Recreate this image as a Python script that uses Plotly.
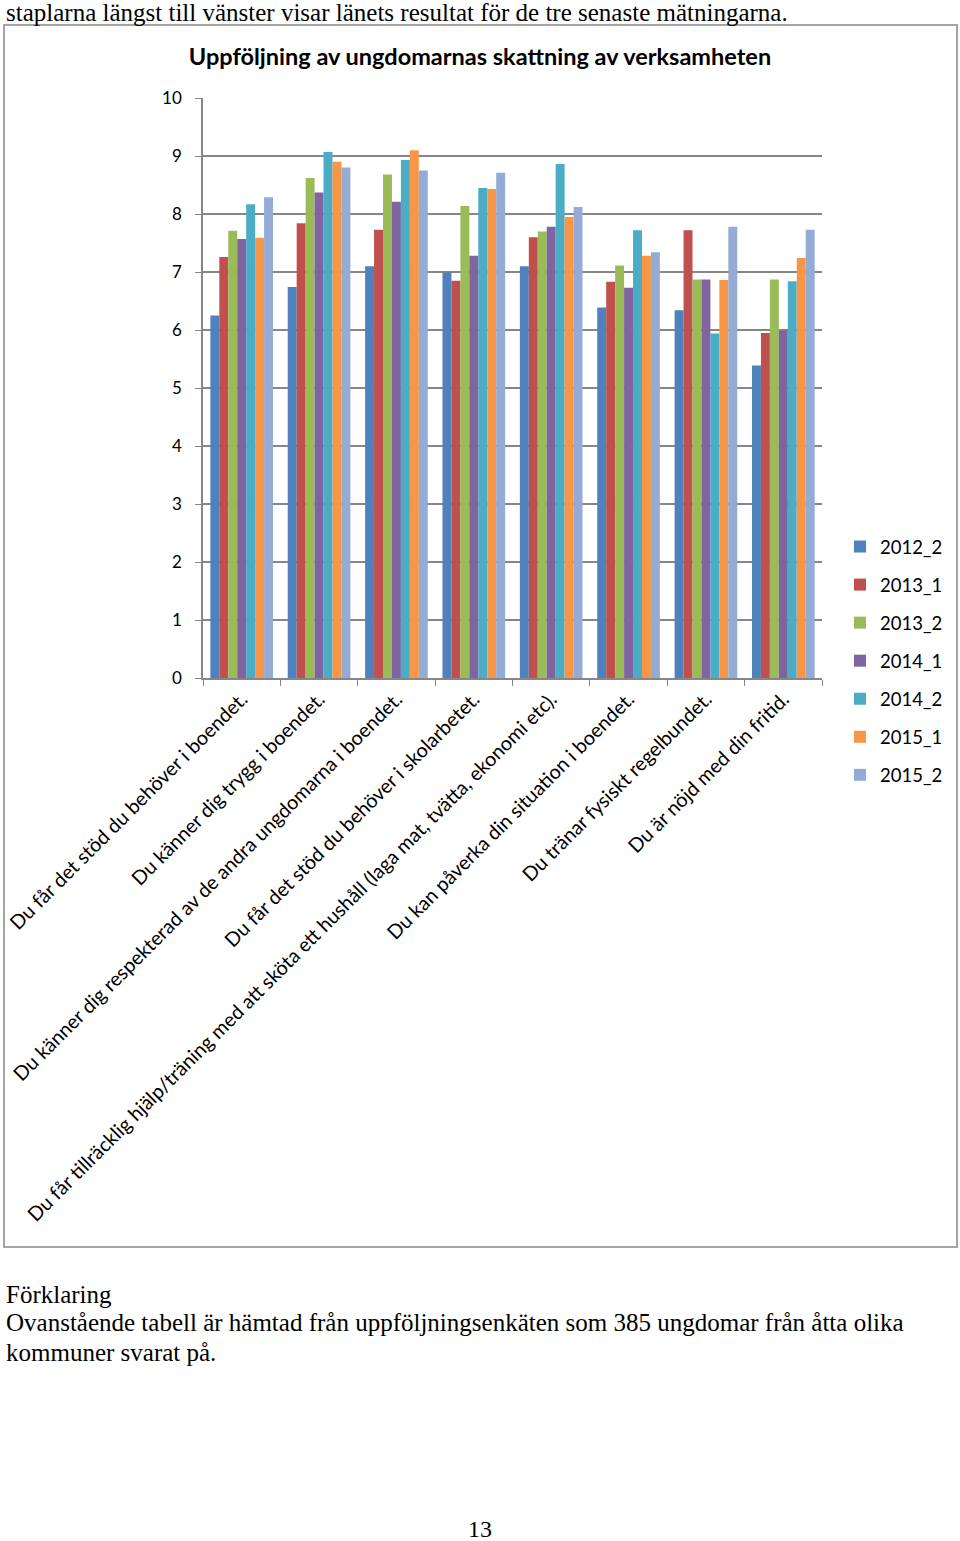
import plotly.graph_objects as go

categories = [
    "Du får det stöd du behöver i boendet.",
    "Du känner dig trygg i boendet.",
    "Du känner dig respekterad av de andra ungdomarna i boendet.",
    "Du får det stöd du behöver i skolarbetet.",
    "Du får tillräcklig hjälp/träning med att sköta ett hushåll (laga mat, tvätta, ekonomi etc).",
    "Du kan påverka din situation i boendet.",
    "Du tränar fysiskt regelbundet.",
    "Du är nöjd med din fritid.",
]

series_names = ["2012_2", "2013_1", "2013_2", "2014_1", "2014_2", "2015_1", "2015_2"]

v_2012_2 = [6.25, 6.74, 7.10, 6.99, 7.10, 6.39, 6.34, 5.39]
v_2013_1 = [7.26, 7.84, 7.73, 6.85, 7.60, 6.83, 7.72, 5.95]
v_2013_2 = [7.71, 8.62, 8.68, 8.14, 7.70, 7.11, 6.87, 6.87]
v_2014_1 = [7.57, 8.37, 8.21, 7.28, 7.78, 6.73, 6.87, 5.99]
v_2014_2 = [8.17, 9.07, 8.93, 8.45, 8.86, 7.72, 5.94, 6.84]
v_2015_1 = [7.59, 8.90, 9.10, 8.43, 7.95, 7.28, 6.86, 7.24]
v_2015_2 = [8.29, 8.80, 8.75, 8.71, 8.12, 7.34, 7.78, 7.73]

all_values = [v_2012_2, v_2013_1, v_2013_2, v_2014_1, v_2014_2, v_2015_1, v_2015_2]
colors = ["#4F81BD", "#C0504D", "#9BBB59", "#8064A2", "#4BACC6", "#F79646", "#94ABD6"]

y_ticks = [0, 1, 2, 3, 4, 5, 6, 7, 8, 9, 10]

W, H = 960, 1541
# plot area in page pixels
L, R, T, B = 203, 822, 98, 678

def px_x(page_x):
    return (page_x - L) / (R - L)

def px_y(page_y):
    return (B - page_y) / (B - T)

fig = go.Figure()
for name, vals, col in zip(series_names, all_values, colors):
    fig.add_trace(go.Bar(
        x=categories, y=vals, name=name, marker=dict(color=col, line=dict(width=0)),
        legendgroup=name,
    ))

font_main = "Lato, 'Open Sans', sans-serif"
serif = "'Liberation Serif', 'DejaVu Serif', serif"

fig.update_layout(
    width=W, height=H,
    margin=dict(l=L, r=W - R, t=T, b=H - B, pad=0, autoexpand=False),
    paper_bgcolor="white", plot_bgcolor="white",
    barmode="group", bargap=0.19, bargroupgap=0,
    font=dict(family=font_main, size=17, color="#000000"),
    title=dict(text="<b>Uppföljning av ungdomarnas skattning av verksamheten</b>",
               x=480 / W, xref="container", xanchor="center",
               y=1 - 57 / H, yref="container",
               yanchor="middle", font=dict(size=23.5, family=font_main)),
    showlegend=True,
    legend=dict(x=px_x(840), xanchor="left", y=px_y(528), yanchor="top",
                font=dict(size=18.5), tracegroupgap=11, itemwidth=30,
                bgcolor="rgba(0,0,0,0)"),
    xaxis=dict(
        type="category", tickangle=-45, showgrid=False,
        showline=True, linecolor="#868686", linewidth=1.5,
        ticks="outside", tickson="boundaries", ticklen=6, tickcolor="#868686",
        tickfont=dict(size=19.8, family=font_main),
    ),
    yaxis=dict(
        range=[0, 10], tickvals=y_ticks, ticktext=[str(t) for t in y_ticks],
        showgrid=True, gridcolor="#868686", gridwidth=1.5,
        showline=True, linecolor="#868686", linewidth=1.5,
        ticks="outside", ticklen=6, tickcolor="#868686",
        ticklabelstandoff=10, zeroline=False,
        tickfont=dict(size=17, family=font_main),
    ),
)

# chart border
fig.add_shape(type="rect", xref="paper", yref="paper",
              x0=px_x(4), x1=px_x(957), y0=px_y(1247), y1=px_y(25),
              line=dict(color="#868686", width=1.5), fillcolor="rgba(0,0,0,0)", layer="below")

def page_text(text, x, y, size=25, anchor="left"):
    fig.add_annotation(text=text, xref="paper", yref="paper",
                       x=px_x(x), y=px_y(y),
                       xanchor=anchor, yanchor="middle", showarrow=False,
                       font=dict(family=serif, size=size, color="#000000"))

page_text("staplarna längst till vänster visar länets resultat för de tre senaste mätningarna.", 4, 12)
page_text("Förklaring", 4, 1294)
page_text("Ovanstående tabell är hämtad från uppföljningsenkäten som 385 ungdomar från åtta olika", 4, 1323)
page_text("kommuner svarat på.", 4, 1352)
page_text("13", 480, 1529, size=24, anchor="center")

fig.write_html("out.html", config={"displayModeBar": False},
               post_script="document.body.style.margin='0px';")
